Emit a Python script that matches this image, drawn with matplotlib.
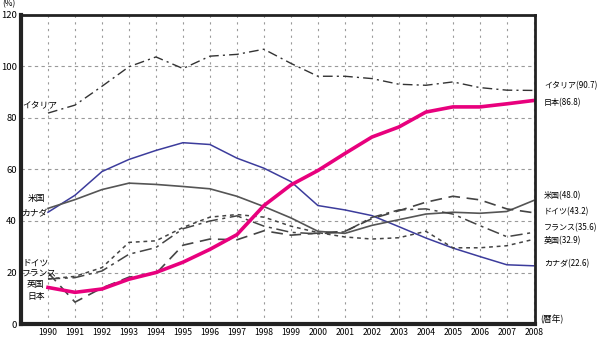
import matplotlib
matplotlib.use("Agg")
import matplotlib.pyplot as plt

plt.rcParams['font.family'] = ['Noto Sans CJK JP', 'DejaVu Sans']

years = list(range(1990, 2009))

japan   = [14.2, 12.3, 13.6, 17.4, 20.0, 24.0, 29.0, 34.7, 46.0, 54.0, 59.6, 66.2, 72.6, 76.5, 82.3, 84.3, 84.3, 85.5, 86.8]
italy   = [81.9, 85.0, 92.3, 99.9, 103.7, 99.2, 104.0, 104.7, 106.7, 101.2, 96.2, 96.2, 95.3, 93.1, 92.7, 94.0, 91.8, 90.8, 90.7]
canada  = [43.4, 50.0, 59.2, 63.9, 67.4, 70.4, 69.7, 64.4, 60.5, 55.3, 46.0, 44.3, 42.1, 37.8, 33.4, 29.5, 26.2, 23.0, 22.6]
us      = [44.9, 48.3, 52.2, 54.7, 54.2, 53.4, 52.5, 49.6, 45.6, 41.2, 36.0, 35.2, 38.3, 40.5, 42.7, 43.4, 43.0, 43.7, 48.0]
germany = [20.0, 8.5, 14.0, 18.2, 19.6, 30.6, 33.0, 32.7, 36.2, 34.5, 35.3, 36.0, 40.9, 44.0, 47.3, 49.6, 48.2, 44.7, 43.2]
france  = [17.5, 18.0, 20.6, 27.1, 29.7, 37.0, 40.0, 42.0, 38.0, 35.6, 35.0, 35.8, 41.4, 44.3, 44.7, 42.7, 38.2, 33.9, 35.6]
uk      = [17.5, 18.5, 21.9, 31.7, 32.3, 37.5, 41.5, 42.5, 41.5, 38.0, 35.5, 33.8, 33.0, 33.5, 36.0, 29.6, 29.6, 30.4, 32.9]

names_left = ['イタリア', '米国', 'カナダ', 'ドイツ', 'フランス', '英国', '日本']
names_right = ['イタリア(90.7)', '日本(86.8)', '米国(48.0)', 'ドイツ(43.2)',
               'フランス(35.6)', '英国(32.9)', 'カナダ(22.6)']

fig = plt.figure(figsize=(6, 3.4), dpi=100)
ax = fig.add_axes([0.035, 0.047, 0.857, 0.909])

gray = '#444444'
ax.plot(years, italy, color='#333333', lw=1.0, dashes=(7, 3, 1.5, 3))
ax.plot(years, canada, color='#3c3c9c', lw=1.1)
ax.plot(years, us, color='#555555', lw=1.2)
ax.plot(years, germany, color=gray, lw=1.2, dashes=(7, 4))
ax.plot(years, france, color=gray, lw=1.1, dashes=(8, 3, 2, 3))
ax.plot(years, uk, color=gray, lw=1.1, dashes=(2.5, 2.5))
ax.plot(years, japan, color='#e8007d', lw=2.6)

ax.set_xlim(1989, 2008.05)
ax.set_ylim(0, 120)
ax.set_xticks(years)
ax.set_xticklabels([str(y) for y in years], fontsize=6.2)
ax.set_yticks(range(0, 121, 20))
ax.set_yticklabels([str(v) for v in range(0, 121, 20)], fontsize=6.8)
ax.tick_params(length=0, pad=3)

for y in years:
    ax.axvline(y, color='#9a9a9a', lw=0.8, dashes=(2, 4), zorder=0)
for v in range(20, 120, 20):
    ax.axhline(v, color='#9a9a9a', lw=0.8, dashes=(3, 3), zorder=0)

ax.spines['left'].set_linewidth(3)
ax.spines['bottom'].set_linewidth(3)
ax.spines['top'].set_linewidth(2)
ax.spines['right'].set_linewidth(2)
for s in ax.spines.values():
    s.set_color('#222222')

# left labels (pixel positions)
left_pos = [(22, 105), (28, 199), (21, 214), (22, 263), (22, 274), (27, 285), (27, 296)]
for name, (px, py) in zip(names_left, left_pos):
    fig.text(px / 600, 1 - py / 340, name, fontsize=6.3, va='center', ha='left')

right_pos = [86, 103, 196, 212, 228, 241, 264]
for name, py in zip(names_right, right_pos):
    fig.text(544 / 600, 1 - py / 340, name, fontsize=5.8, va='center', ha='left')

fig.text(2 / 600, 1 - 4 / 340, '(%)', fontsize=6, va='center', ha='left')
fig.text(540 / 600, 1 - 319 / 340, '(暦年)', fontsize=6.3, va='center', ha='left')

fig.savefig('out.png', dpi=100)
